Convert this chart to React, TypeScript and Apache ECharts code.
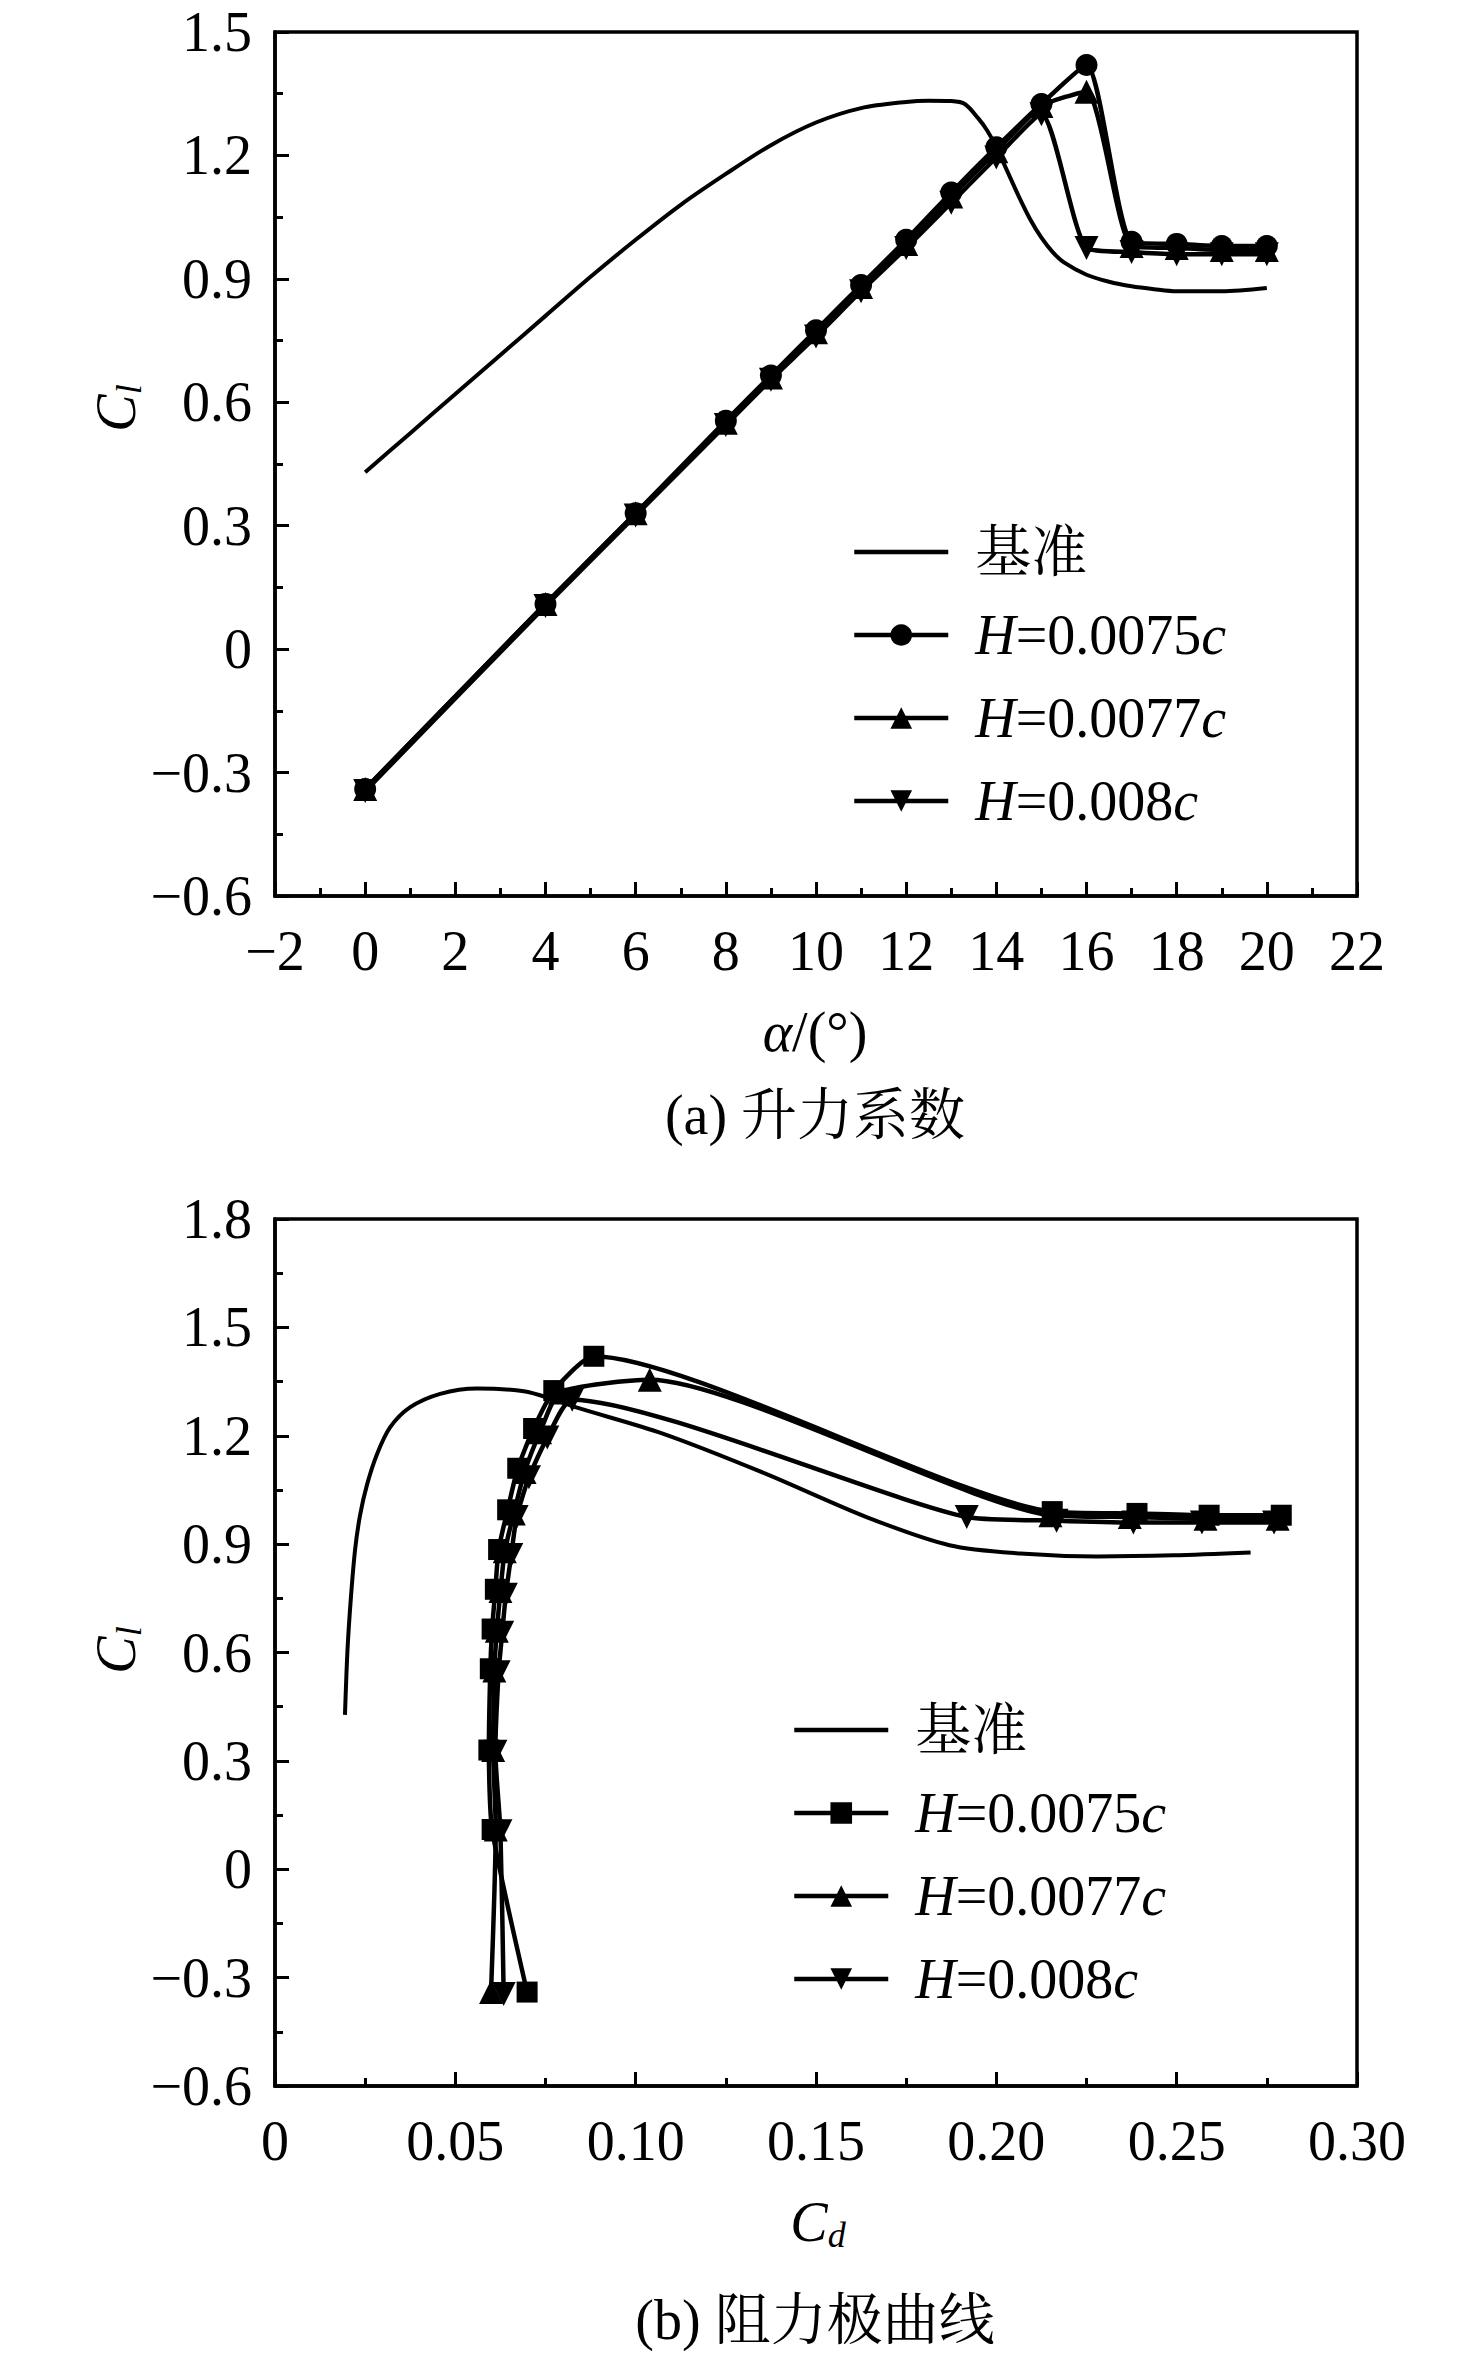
import React, { useEffect, useRef } from 'react';
import * as echarts from 'echarts';

// ---------- data ----------
const alphaDeg = [0, 4, 6, 8, 9, 10, 11, 12, 13, 14, 15, 16, 17, 18, 19, 20];

const cl0075 = [-0.34, 0.11, 0.33, 0.555, 0.665, 0.775, 0.885, 0.995, 1.11, 1.22, 1.325, 1.42, 0.99, 0.985, 0.98, 0.98];
const cl0077 = [-0.34, 0.11, 0.33, 0.55, 0.66, 0.77, 0.88, 0.985, 1.1, 1.21, 1.32, 1.355, 0.98, 0.975, 0.97, 0.97];
const cl008 = [-0.345, 0.105, 0.325, 0.545, 0.655, 0.76, 0.87, 0.975, 1.085, 1.195, 1.3, 0.975, 0.965, 0.96, 0.96, 0.96];

const cd0075 = [0.0699, 0.0602, 0.0593, 0.0597, 0.0602, 0.0611, 0.062, 0.0645, 0.0673, 0.0717, 0.0773, 0.0884, 0.2155, 0.239, 0.259, 0.279];
const cd0077 = [0.0599, 0.0612, 0.0605, 0.0608, 0.0615, 0.0625, 0.0637, 0.0662, 0.0692, 0.0735, 0.079, 0.1039, 0.215, 0.237, 0.258, 0.278];
const cd008 = [0.0634, 0.0625, 0.0611, 0.062, 0.063, 0.064, 0.0655, 0.067, 0.0704, 0.0755, 0.0824, 0.1918, 0.2167, 0.238, 0.257, 0.277];

const baseAlpha = [0, 1, 2, 3, 4, 5, 6, 7, 8, 9, 10, 11, 12, 12.5, 13, 13.3, 13.6, 13.8, 14, 14.25, 14.5, 14.75, 15, 15.25, 15.5, 16, 16.5, 17, 17.5, 18, 19, 20];
const baseClA = [0.43, 0.525, 0.62, 0.715, 0.81, 0.905, 0.995, 1.08, 1.155, 1.225, 1.28, 1.315, 1.33, 1.333, 1.332, 1.325, 1.29, 1.26, 1.22, 1.16, 1.1, 1.045, 1.0, 0.965, 0.94, 0.91, 0.893, 0.882, 0.875, 0.87, 0.87, 0.878];

const polarBaseCd = [0.0194, 0.0201, 0.021, 0.0222, 0.0236, 0.0255, 0.0282, 0.0319, 0.0375, 0.0458, 0.056, 0.069, 0.0773, 0.0833, 0.1075, 0.1358, 0.164, 0.187, 0.2067, 0.228, 0.249, 0.2705];
const polarBaseCl = [0.4275, 0.607, 0.746, 0.884, 0.981, 1.064, 1.147, 1.223, 1.279, 1.316, 1.331, 1.323, 1.3, 1.279, 1.206, 1.096, 0.975, 0.897, 0.874, 0.866, 0.869, 0.877];

const legendLabels = ['基准', 'H=0.0075c', 'H=0.0077c', 'H=0.008c'];

const axisA = { xMin: -2, xMax: 22, xStep: 2, yMin: -0.6, yMax: 1.5, yStep: 0.3 };
const axisB = { xMin: 0, xMax: 0.3, xStep: 0.05, yMin: -0.6, yMax: 1.8, yStep: 0.3 };

const captions = ['(a) 升力系数', '(b) 阻力极曲线'];

// ---------- styles ----------
const SERIF = '"Liberation Serif", "Times New Roman", "Noto Serif CJK SC", "Noto Sans CJK SC", serif';
const FS = 56;

const minus = (s: string) => s.replace('-', '\u2212');
const fmtY = (v: number) => (Math.abs(v) < 1e-9 ? '0' : minus(v.toFixed(1)));
const fmtXA = (v: number) => (Math.abs(v) < 1e-9 ? '0' : minus(String(Math.round(v))));
const fmtXB = (v: number) => (Math.abs(v) < 1e-9 ? '0' : v.toFixed(2));

const axisCommon = {
  axisLine: { show: true, onZero: false, lineStyle: { color: '#000', width: 3.5 } },
  axisTick: { show: true, inside: true, length: 14, lineStyle: { color: '#000', width: 3 } },
  minorTick: { show: true, splitNumber: 2, length: 8, lineStyle: { color: '#000', width: 3 } },
  splitLine: { show: false },
  minorSplitLine: { show: false },
};

const pairs = (xs: number[], ys: number[]) => xs.map((x, i) => [x, ys[i]]);

function lineSeries(name: string, data: number[][], idx: number, symbol: string, size: number, rotate = 0) {
  const isBase = symbol === 'none';
  return {
    type: 'line',
    name,
    xAxisIndex: idx,
    yAxisIndex: idx,
    data,
    symbol,
    symbolSize: size,
    symbolRotate: rotate,
    showSymbol: !isBase,
    smooth: isBase ? 0.3 : 0.2,
    lineStyle: { color: '#000', width: isBase ? 4 : 4.5 },
    itemStyle: { color: '#000' },
    emphasis: { disabled: true },
    silent: true,
  };
}

const legendFmt = (name: string) => {
  const label = name.slice(2);
  if (label.startsWith('H=')) return '{i|H}=' + label.slice(2, -1) + '{i|c}';
  return label;
};

const legendText = {
  color: '#000',
  fontFamily: SERIF,
  fontSize: 56,
  lineHeight: 60,
  padding: [0, 0, 0, 22],
  rich: { i: { fontStyle: 'italic', fontFamily: SERIF, fontSize: 56, lineHeight: 60, color: '#000' } },
};

const legendData = (names: string[]) =>
  names.map((n, i) =>
    i === 0 ? { name: n, itemStyle: { opacity: 0, color: 'rgba(0,0,0,0)', borderWidth: 0 } } : { name: n }
  );

const txt = (x: number, y: number, text: string, rich: any = {}, rotation = 0) => ({
  type: 'text',
  x,
  y,
  rotation,
  silent: true,
  style: {
    text,
    fontFamily: SERIF,
    fontSize: FS,
    fill: '#000',
    align: 'center',
    verticalAlign: 'middle',
    rich,
  },
});

const subRich = {
  c: { fontStyle: 'italic', fontFamily: SERIF, fontSize: FS, lineHeight: 62, fill: '#000' },
  s: { fontStyle: 'italic', fontFamily: SERIF, fontSize: 36, lineHeight: 30, verticalAlign: 'bottom', fill: '#000' },
};

export default function App() {
  const ref = useRef<HTMLDivElement>(null);
  useEffect(() => {
    if (!ref.current) return;
    const chart = echarts.init(ref.current, null, { renderer: 'svg' });
    const namesA = legendLabels.map((l) => 'a:' + l);
    const namesB = legendLabels.map((l) => 'b:' + l);
    const legendCommon = {
      orient: 'vertical',
      itemWidth: 94,
      itemHeight: 27,
      itemGap: 23,
      padding: 0,
      selectedMode: false,
      formatter: legendFmt,
      textStyle: legendText,
      lineStyle: { width: 4.5, color: '#000' },
    };
    const option: any = {
      animation: false,
      backgroundColor: '#fff',
      grid: [
        { left: 275, top: 32, width: 1082, height: 864, show: true, borderColor: '#000', borderWidth: 3.5, backgroundColor: 'transparent' },
        { left: 275, top: 1219, width: 1082, height: 867, show: true, borderColor: '#000', borderWidth: 3.5, backgroundColor: 'transparent' },
      ],
      xAxis: [
        {
          ...axisCommon,
          type: 'value',
          gridIndex: 0,
          min: axisA.xMin,
          max: axisA.xMax,
          interval: axisA.xStep,
          axisLabel: { color: '#000', fontFamily: SERIF, fontSize: FS, margin: 27, formatter: fmtXA },
        },
        {
          ...axisCommon,
          type: 'value',
          gridIndex: 1,
          min: axisB.xMin,
          max: axisB.xMax,
          interval: axisB.xStep,
          axisLabel: { color: '#000', fontFamily: SERIF, fontSize: FS, margin: 27, formatter: fmtXB },
        },
      ],
      yAxis: [
        {
          ...axisCommon,
          type: 'value',
          gridIndex: 0,
          min: axisA.yMin,
          max: axisA.yMax,
          interval: axisA.yStep,
          axisLabel: { color: '#000', fontFamily: SERIF, fontSize: FS, margin: 23, formatter: fmtY },
        },
        {
          ...axisCommon,
          type: 'value',
          gridIndex: 1,
          min: axisB.yMin,
          max: axisB.yMax,
          interval: axisB.yStep,
          axisLabel: { color: '#000', fontFamily: SERIF, fontSize: FS, margin: 23, formatter: fmtY },
        },
      ],
      legend: [
        { ...legendCommon, data: legendData(namesA), left: 852, top: 522 },
        { ...legendCommon, data: legendData(namesB), left: 792, top: 1700 },
      ],
      series: [
        lineSeries(namesA[0], pairs(baseAlpha, baseClA), 0, 'none', 0),
        lineSeries(namesA[1], pairs(alphaDeg, cl0075), 0, 'circle', 22),
        lineSeries(namesA[2], pairs(alphaDeg, cl0077), 0, 'triangle', 24),
        lineSeries(namesA[3], pairs(alphaDeg, cl008), 0, 'triangle', 24, 180),
        lineSeries(namesB[0], pairs(polarBaseCd, polarBaseCl), 1, 'none', 0),
        lineSeries(namesB[1], pairs(cd0075, cl0075), 1, 'rect', 21),
        lineSeries(namesB[2], pairs(cd0077, cl0077), 1, 'triangle', 24),
        lineSeries(namesB[3], pairs(cd008, cl008), 1, 'triangle', 24, 180),
      ],
      graphic: [
        txt(815, 1032, '{i|α}/(°)', { i: { fontStyle: 'italic', fontFamily: SERIF, fontSize: FS, fill: '#000' } }),
        txt(815, 1115, captions[0]),
        txt(116, 408, '{c|C}{s|l}', subRich, Math.PI / 2),
        txt(818, 2222, '{c|C}{s|d}', subRich),
        txt(815, 2320, captions[1]),
        txt(116, 1650, '{c|C}{s|l}', subRich, Math.PI / 2),
      ],
    };
    chart.setOption(option);
    return () => chart.dispose();
  }, []);
  return <div ref={ref} style={{ position: 'absolute', left: 0, top: 0, width: 1476, height: 2355, background: '#fff' }} />;
}
